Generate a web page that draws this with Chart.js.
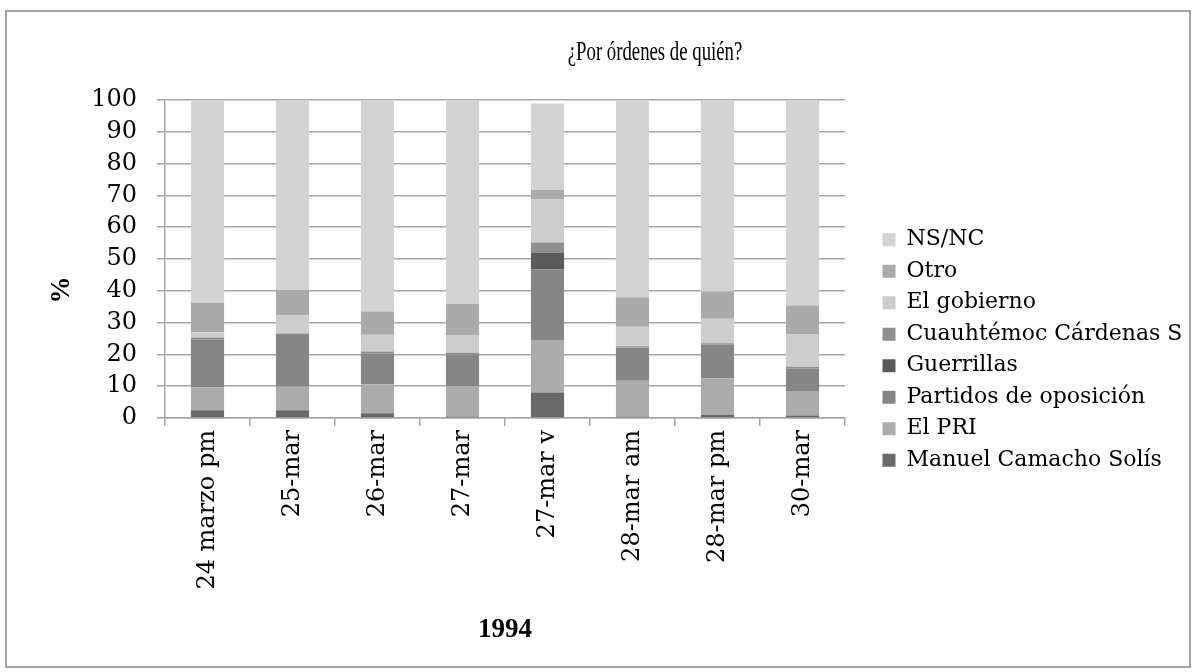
<!DOCTYPE html>
<html>
<head>
<meta charset="utf-8">
<title>¿Por órdenes de quién?</title>
<script src="https://cdn.jsdelivr.net/npm/chart.js@4"></script>
<style>
  html, body { margin: 0; padding: 0; background: #fff; }
  #wrap { position: relative; width: 1193px; height: 672px; }
  #frame {
    position: absolute; left: 5px; top: 10px; width: 1186px; height: 658px;
    border: 2px solid #a3a3a3; box-sizing: border-box; pointer-events: none;
  }
</style>
</head>
<body>
<div id="wrap">
  <canvas id="chart" width="1193" height="672"></canvas>
  <div id="frame"></div>
</div>
<script>
// ── Data ──────────────────────────────────────────────────────────────────
const chartTitle = '¿Por órdenes de quién?';
const yTitle = '%';
const categories = ['24 marzo pm', '25-mar', '26-mar', '27-mar', '27-mar v', '28-mar am', '28-mar pm', '30-mar'];

// stacked bottom → top
const camacho    = [2.4, 2.4, 1.5, 0.5, 8.0, 0.5, 1.0, 0.8];
const pri        = [7.2, 7.4, 9.1, 9.6, 16.5, 11.2, 11.5, 7.7];
const oposicion  = [15.2, 16.3, 9.8, 9.9, 22.3, 10.4, 10.5, 7.1];
const guerrillas = [0, 0, 0, 0, 5.1, 0, 0, 0];
const cardenas   = [0.5, 0.5, 0.5, 0.5, 3.3, 0.5, 0.5, 0.5];
const gobierno   = [1.7, 5.7, 5.3, 5.6, 13.5, 6.1, 7.7, 10.3];
const otro       = [9.3, 8.0, 7.3, 9.8, 3.1, 9.3, 8.6, 9.0];
const nsnc       = [63.7, 59.7, 66.5, 64.1, 27.1, 62.0, 60.2, 64.6];

const yTicks = [0, 10, 20, 30, 40, 50, 60, 70, 80, 90, 100];

// ── Layout helpers ────────────────────────────────────────────────────────
const SERIF = "'Liberation Serif', 'Times New Roman', serif";
const BODY  = "'DejaVu Serif', serif";   // closest width match to the original labels
Chart.defaults.font.family = BODY;
Chart.defaults.color = '#000';

const GRID = '#a6a6a6';

// title (off-centre, a little condensed) and the rotated "%" axis label
const titlePlugin = {
  id: 'plotTitle',
  afterDraw(chart) {
    const c = chart.ctx;
    c.save();
    c.font = '28px ' + SERIF;
    c.fillStyle = '#000';
    c.textAlign = 'center';
    c.textBaseline = 'middle';
    c.translate(655, 53);
    c.scale(0.67, 1);
    c.fillText(chartTitle, 0, 0);
    c.restore();

    c.save();
    c.font = 'bold 27px ' + SERIF;
    c.fillStyle = '#000';
    c.textAlign = 'center';
    c.textBaseline = 'middle';
    c.translate(62, 290);
    c.rotate(-Math.PI / 2);
    c.fillText(yTitle, 0, 0);
    c.restore();
  }
};

// widen the legend box and nudge its contents
const legendPlugin = {
  id: 'legendNudge',
  afterInit(chart) {
    const lg = chart.legend;
    if (!lg) return;
    const fit = lg.fit;
    lg.fit = function () { fit.call(this); this.width = 348; };
    const draw = lg.draw;
    lg.draw = function () {
      const c = this.ctx;
      c.save();
      c.translate(28, -25);
      draw.call(this);
      c.restore();
    };
  }
};

const series = [
  { label: 'Manuel Camacho Solís', data: camacho, color: '#696969' },
  { label: 'El PRI', data: pri, color: '#ababab' },
  { label: 'Partidos de oposición', data: oposicion, color: '#868686' },
  { label: 'Guerrillas', data: guerrillas, color: '#5a5a5a' },
  { label: 'Cuauhtémoc Cárdenas S', data: cardenas, color: '#909090' },
  { label: 'El gobierno', data: gobierno, color: '#cdcdcd' },
  { label: 'Otro', data: otro, color: '#aaaaaa' },
  { label: 'NS/NC', data: nsnc, color: '#d3d3d3' }
];

new Chart(document.getElementById('chart'), {
  type: 'bar',
  data: {
    labels: categories,
    datasets: series.map(s => ({
      label: s.label,
      data: s.data,
      backgroundColor: s.color,
      borderWidth: 0,
      categoryPercentage: 1,
      barPercentage: 0.39
    }))
  },
  options: {
    responsive: false,
    animation: false,
    layout: { padding: { top: 100, left: 45, right: 0, bottom: 22 } },
    plugins: {
      title: { display: false },
      tooltip: { enabled: false },
      legend: {
        position: 'right',
        reverse: true,
        labels: {
          boxWidth: 13,
          boxHeight: 13,
          padding: 9.5,
          font: { size: 22 },
          color: '#000'
        }
      }
    },
    scales: {
      x: {
        stacked: true,
        afterFit: s => { s.height = 232; },
        grid: { drawOnChartArea: false, drawTicks: true, tickLength: 8, color: GRID, lineWidth: 1.5 },
        border: { color: GRID, width: 1.5 },
        ticks: { minRotation: 90, maxRotation: 90, autoSkip: false, padding: 4, font: { size: 24 } },
        title: { display: true, text: '1994', font: { family: SERIF, size: 27, weight: 'bold' } }
      },
      y: {
        stacked: true,
        min: yTicks[0],
        max: yTicks[yTicks.length - 1],
        afterFit: s => { s.width = 120; },
        afterBuildTicks: s => { s.ticks = yTicks.map(v => ({ value: v })); },
        grid: { color: GRID, lineWidth: 1.5, tickLength: 8 },
        border: { color: GRID, width: 1.5 },
        ticks: { autoSkip: false, stepSize: 10, padding: 20, font: { size: 24 } },
        title: { display: false }
      }
    }
  },
  plugins: [titlePlugin, legendPlugin]
});
</script>
</body>
</html>
